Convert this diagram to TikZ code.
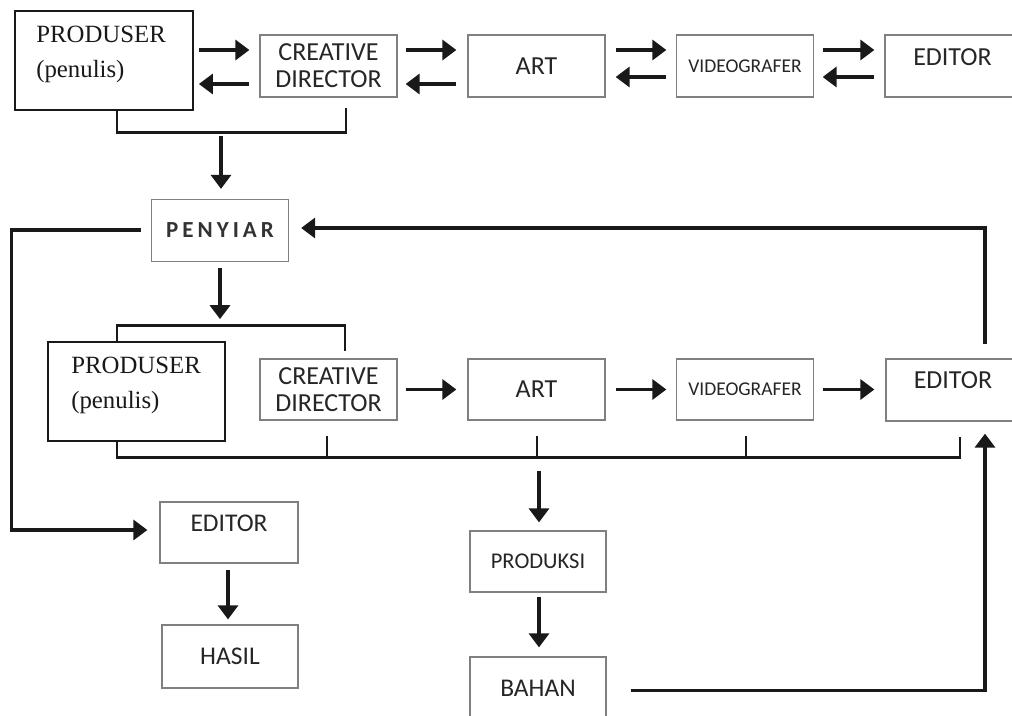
\documentclass[tikz,border=0pt]{standalone}
\usepackage{fontspec}
\setmainfont{Liberation Serif}
\newfontfamily\calfont{Carlito}
\usetikzlibrary{arrows.meta,calc}
\begin{document}
\begin{tikzpicture}[x=1pt,y=-1pt,
  box/.style={draw=black!50, line width=1.3pt, inner sep=0pt, text=black!85,
    font=\calfont\fontsize{26}{27}\selectfont, align=center,
    minimum width=137pt, minimum height=62pt},
  pbox/.style={draw=black!90, line width=1.8pt, inner sep=0pt,
    minimum width=178pt, minimum height=99pt},
  ptext/.style={anchor=base west, inner sep=0pt, text=black!90,
    font=\fontsize{24.8}{26}\selectfont},
  arr/.style={line width=3.4pt, draw=black!90, -{Triangle[length=14pt,width=20pt]}},
  conn/.style={line width=2.6pt, draw=black!90},
  small/.style={font=\calfont\fontsize{19.5}{21}\selectfont},
  mid/.style={font=\calfont\fontsize{25.5}{27}\selectfont}
]
\useasboundingbox (0,0) rectangle (1012,715);
\clip (0,0) rectangle (1012,715);
\fill[white] (0,0) rectangle (1012,715);

% ---- top row ----
\node[pbox] (p1) at (104,60.5) {};
\node[ptext] (p1a) at ($(p1.north west)+(22,32)$) {PRODUSER};
\node[ptext] (p1b) at ($(p1.north west)+(22,67)$) {(penulis)};
\node[box] (cd1) at (328.5,66) {CREATIVE\\DIRECTOR};
\node[box] (art1) at (536.5,66) {ART};
\node[box, small] (vid1) at (745,66) {VIDEOGRAFER};
\node[box, minimum width=135pt, text depth=18pt] (ed1) at (952.5,66) {EDITOR};

\draw[arr] ($(p1.east)+(5,-10.5)$) -- ($(cd1.west)+(-10,-16)$);
\draw[arr] ($(cd1.west)+(-10,18)$) -- ($(p1.east)+(5,23.5)$);
\draw[arr] ($(cd1.east)+(8,-16)$) -- ($(art1.west)+(-11,-16)$);
\draw[arr] ($(art1.west)+(-11,18)$) -- ($(cd1.east)+(8,18)$);
\draw[arr] ($(art1.east)+(10,-16)$) -- ($(vid1.west)+(-9.5,-16)$);
\draw[arr] ($(vid1.west)+(-9.5,11)$) -- ($(art1.east)+(10,11)$);
\draw[arr] ($(vid1.east)+(8.5,-16)$) -- ($(ed1.west)+(-10,-16)$);
\draw[arr] ($(ed1.west)+(-10,11)$) -- ($(vid1.east)+(8.5,11)$);

\draw[conn] ($(cd1.south)+(17.5,10)$) -- ++(0,25) -| ($(p1.south)+(13,0)$);

% ---- penyiar ----
\node[box, font=\calfont\bfseries\fontsize{23}{24}\selectfont, text=black!80] (pen) at (220,230.5)
  {P\kern4pt E\kern4pt N\kern4pt Y\kern4pt I\kern4pt A\kern4pt R};
\draw[arr] ($(pen.north)+(1,-63)$) -- ($(pen.north)+(1,-10)$);
\draw[arr] ($(pen.south)+(0,6)$) -- ($(pen.south)+(0,57)$);

% ---- second row ----
\node[pbox, minimum width=177pt] (p2) at (136.5,391.5) {};
\node[ptext] (p2a) at ($(p2.north west)+(24,32)$) {PRODUSER};
\node[ptext] (p2b) at ($(p2.north west)+(24,67)$) {(penulis)};
\node[box, minimum height=61pt] (cd2) at (328.5,389.5) {CREATIVE\\DIRECTOR};
\node[box, minimum height=61pt] (art2) at (536.5,389.5) {ART};
\node[box, small, minimum height=61pt] (vid2) at (745,389.5) {VIDEOGRAFER};
\node[box, minimum width=134pt, text depth=20pt] (ed2) at (953,390) {EDITOR};

\draw[conn] ($(p2.north)+(-19.5,0)$) |- ($(cd2.north)+(16.5,-33)$) -- ($(cd2.north)+(16.5,-7)$);

\draw[arr] ($(cd2.east)+(8,0)$) -- ($(art2.west)+(-11,0)$);
\draw[arr] ($(art2.east)+(10,0)$) -- ($(vid2.west)+(-9.5,0)$);
\draw[arr] ($(vid2.east)+(8.5,0)$) -- ($(ed2.west)+(-11,-0.5)$);

% bottom bracket
\draw[conn] ($(p2.south)+(-19.5,0)$) |- ($(ed2.south)+(7,36)$) -- ($(ed2.south)+(7,15)$);
\draw[conn] ($(cd2.south)+(-1.5,15)$) -- ++(0,22);
\draw[conn] ($(art2.south)+(0.5,15)$) -- ++(0,22);
\draw[conn] ($(vid2.south)+(1,15)$) -- ++(0,22);

% ---- loop back to penyiar ----
\draw[arr] ($(ed2.north)+(32,-14)$) |- ($(pen.east)+(12,-2.5)$);

% ---- left branch ----
\node[box, mid, text depth=18pt, minimum width=138pt, minimum height=61pt] (ed3) at (229,532.5) {EDITOR};
\node[box, mid, minimum width=136pt, minimum height=63pt] (hasil) at (230,656.5) {HASIL};
\draw[arr] ($(pen.west)+(-10,-0.5)$) -| ($(ed3.west)+(-148,-2.5)$) -- ($(ed3.west)+(-12,-2.5)$);
\draw[arr] ($(ed3.south)+(-1,6)$) -- ($(hasil.north)+(-2,-5)$);

% ---- middle branch ----
\node[box, font=\calfont\fontsize{22.5}{24}\selectfont, minimum width=136pt, minimum height=61pt] (prod) at (538,561.5) {PRODUKSI};
\node[box, mid, minimum width=136pt, minimum height=63pt] (bahan) at (538,688.5) {BAHAN};
\draw[arr] ($(prod.north)+(1,-59)$) -- ($(prod.north)+(1,-8)$);
\draw[arr] ($(prod.south)+(1,4)$) -- ($(bahan.north)+(1,-9)$);
\draw[arr] ($(bahan.east)+(24,2)$) -| ($(ed2.south)+(32,12)$);
\end{tikzpicture}
\end{document}
